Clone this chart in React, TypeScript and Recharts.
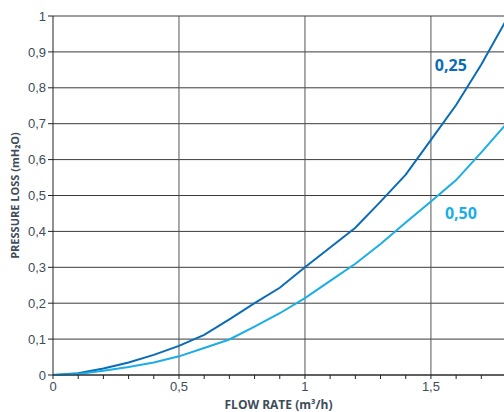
import React from "react";
import {
	LineChart,
	Line,
	CartesianGrid,
	XAxis,
	YAxis,
	ReferenceLine,
	ReferenceDot,
} from "recharts";

const flowRates = [0, 0.1, 0.2, 0.3, 0.4, 0.5, 0.6, 0.7, 0.8, 0.9, 1.0, 1.1, 1.2, 1.3, 1.4, 1.5, 1.6, 1.7, 1.8];
const loss025 = [0, 0.005, 0.018, 0.035, 0.056, 0.081, 0.112, 0.155, 0.2, 0.243, 0.3, 0.355, 0.41, 0.483, 0.558, 0.655, 0.752, 0.865, 0.99];
const loss050 = [0, 0.003, 0.012, 0.022, 0.035, 0.052, 0.075, 0.099, 0.135, 0.172, 0.214, 0.262, 0.31, 0.365, 0.425, 0.483, 0.543, 0.62, 0.7];

const xTicks = [0, 0.1, 0.2, 0.3, 0.4, 0.5, 0.6, 0.7, 0.8, 0.9, 1, 1.1, 1.2, 1.3, 1.4, 1.5, 1.6, 1.7];
const xLabels = [0, 0.5, 1, 1.5];
const yTicks = [0, 0.1, 0.2, 0.3, 0.4, 0.5, 0.6, 0.7, 0.8, 0.9, 1];

const data = flowRates.map((q, i) => ({ q, a: loss025[i], b: loss050[i] }));

const DARK = "#0b6cb6";
const LIGHT = "#1aaee6";
const TEXT = "#3e4c5b";
const fmt = (v: number) => String(v).replace(".", ",");

const XTick = (props: any) => {
	const { x, y, payload } = props;
	if (!xLabels.includes(payload.value)) return null;
	return (
		<text x={x} y={y + 10} textAnchor="middle" fill={TEXT} fontSize={13} fontFamily="Liberation Sans">
			{fmt(payload.value)}
		</text>
	);
};

const App = () => {
	return (
		<div style={{ position: "absolute", left: 0, top: 0 }}>
			<LineChart width={504} height={412} data={data} margin={{ top: 16, right: 0, bottom: 0, left: 0 }}>
				<CartesianGrid vertical={false} stroke="#3a3a3a" horizontalValues={yTicks} />
				{xLabels.slice(1).map((v) => (
					<ReferenceLine key={v} x={v} stroke="#555" />
				))}
				<XAxis
					dataKey="q"
					type="number"
					domain={[0, 1.79]}
					allowDataOverflow
					ticks={xTicks}
					interval={0}
					tick={<XTick />}
					tickSize={4}
					height={37}
					stroke="#222"
					label={{
						value: "FLOW RATE (m³/h)",
						position: "insideBottom",
						offset: 3,
						fill: TEXT,
						fontSize: 12,
						fontWeight: 700,
						fontFamily: "Open Sans",
					}}
				/>
				<YAxis
					type="number"
					domain={[0, 1]}
					ticks={yTicks}
					interval={0}
					tickFormatter={fmt}
					width={53}
					tickSize={5}
					stroke="#222"
					tick={{ fill: TEXT, fontSize: 13, fontFamily: "Liberation Sans" }}
					label={{
						value: "PRESSURE LOSS (mH₂O)",
						angle: -90,
						position: "insideLeft",
						offset: 15,
						style: { textAnchor: "middle" },
						fill: TEXT,
						fontSize: 11,
						fontWeight: 700,
						fontFamily: "Open Sans",
					}}
				/>
				<Line type="linear" dataKey="a" stroke={DARK} strokeWidth={2} dot={false} isAnimationActive={false} />
				<Line type="linear" dataKey="b" stroke={LIGHT} strokeWidth={2} dot={false} isAnimationActive={false} />
				<ReferenceDot
					x={1.579}
					y={0.864}
					r={0}
					stroke="none"
					label={{ value: "0,25", position: "center", fill: DARK, fontSize: 16, fontWeight: 700, fontFamily: "Open Sans" }}
				/>
				<ReferenceDot
					x={1.619}
					y={0.451}
					r={0}
					stroke="none"
					label={{ value: "0,50", position: "center", fill: LIGHT, fontSize: 16, fontWeight: 700, fontFamily: "Open Sans" }}
				/>
			</LineChart>
		</div>
	);
};

export default App;
